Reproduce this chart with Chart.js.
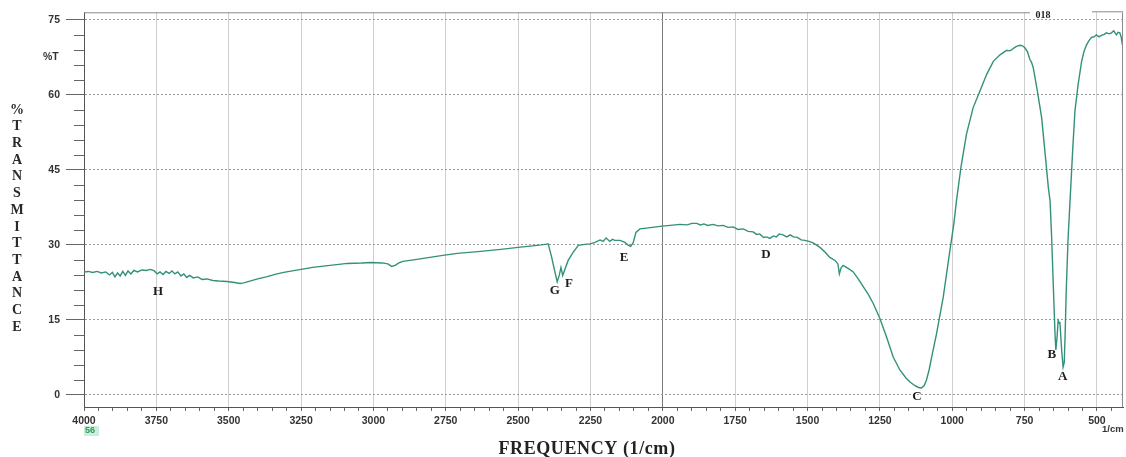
<!DOCTYPE html>
<html>
<head>
<meta charset="utf-8">
<title>FTIR spectrum</title>
<script src="https://cdn.jsdelivr.net/npm/chart.js@4.4.1/dist/chart.umd.min.js"></script>
<style>
  html, body { margin: 0; padding: 0; background: #ffffff; }
  canvas { display: block; }
</style>
</head>
<body>
<canvas id="ir" width="1126" height="457"></canvas>
<script>
// Wavenumber (1/cm) and %T of the recorded IR spectrum, high to low wavenumber.
const wavenumbers = [
  4000, 3985, 3970, 3955, 3940, 3925, 3912, 3902, 3893, 3884, 3875, 3866, 3857, 3848, 3838, 3828,
  3815, 3800, 3785, 3770, 3757, 3747, 3737, 3727, 3717, 3706, 3696, 3686, 3676, 3665, 3655, 3645,
  3635, 3622, 3608, 3592, 3575, 3555, 3535, 3506, 3480, 3460, 3448, 3430, 3400, 3370, 3340, 3310,
  3260, 3210, 3150, 3090, 3040, 3010, 2970, 2950, 2937, 2925, 2912, 2898, 2850, 2805, 2760, 2710,
  2670, 2630, 2560, 2500, 2450, 2420, 2396, 2384, 2373, 2365, 2358, 2352, 2346, 2338, 2327, 2310,
  2292, 2270, 2252, 2234, 2217, 2206, 2196, 2183, 2174, 2166, 2148, 2131, 2119, 2111, 2102, 2093,
  2079, 2050, 2010, 1975, 1941, 1915, 1900, 1883, 1870, 1858, 1845, 1826, 1810, 1791, 1775, 1757,
  1740, 1722, 1705, 1688, 1676, 1665, 1652, 1641, 1630, 1618, 1608, 1598, 1585, 1572, 1560, 1549,
  1535, 1522, 1509, 1495, 1481, 1470, 1457, 1440, 1423, 1405, 1395, 1390, 1384, 1377, 1360, 1342,
  1325, 1307, 1290, 1273, 1250, 1227, 1204, 1181, 1160, 1146, 1130, 1117, 1106, 1097, 1089, 1080,
  1071, 1054, 1031, 1008, 995, 985, 970, 951, 928, 904, 881, 858, 835, 820, 812, 803,
  795, 786, 778, 766, 757, 749, 740, 732, 726, 720, 706, 691, 680, 668, 662, 657,
  651, 645, 642, 638, 634, 630, 628, 622, 617, 613, 610, 606, 600, 593, 584, 576,
  565, 553, 545, 536, 528, 519, 510, 502, 493, 485, 475, 467, 458, 450, 442, 433,
  427, 421, 416, 412
];
const transmittance = [
  24.6, 24.7, 24.5, 24.7, 24.4, 24.6, 24.0, 24.5, 23.6, 24.4, 23.8, 24.7, 23.9, 24.8, 24.2, 24.9,
  24.6, 25.0, 24.9, 25.1, 24.8, 24.2, 24.6, 24.1, 24.7, 24.3, 24.8, 24.2, 24.6, 23.8, 24.2, 23.5,
  23.9, 23.4, 23.6, 23.1, 23.2, 22.9, 22.8, 22.7, 22.5, 22.3, 22.4, 22.7, 23.2, 23.6, 24.1, 24.5,
  25.0, 25.5, 25.9, 26.3, 26.4, 26.5, 26.4, 26.2, 25.7, 25.9, 26.4, 26.7, 27.1, 27.5, 27.9, 28.3,
  28.5, 28.7, 29.1, 29.5, 29.8, 30.0, 30.2, 27.5, 24.6, 22.6, 23.9, 25.5, 23.9, 25.2, 26.9, 28.5,
  29.9, 30.1, 30.2, 30.5, 31.0, 30.7, 31.4, 30.7, 31.1, 30.9, 30.9, 30.5, 29.9, 29.7, 30.5, 32.5,
  33.2, 33.4, 33.7, 33.9, 34.1, 34.0, 34.3, 34.3, 34.0, 34.2, 33.9, 34.1, 33.8, 33.9, 33.5, 33.6,
  33.1, 33.2, 32.7, 32.6, 32.1, 32.2, 31.5, 31.6, 31.3, 31.8, 31.6, 32.2, 32.0, 31.6, 32.0, 31.6,
  31.5, 31.0, 30.9, 30.7, 30.4, 30.0, 29.5, 28.6, 27.5, 26.9, 26.2, 24.2, 25.4, 25.9, 25.3, 24.6,
  23.2, 21.6, 20.1, 18.3, 15.3, 11.6, 7.6, 5.0, 3.4, 2.6, 1.9, 1.5, 1.4, 1.9, 3.0, 5.0,
  7.6, 12.3, 19.6, 28.9, 34.0, 39.0, 45.5, 52.1, 57.4, 60.8, 64.1, 66.7, 68.0, 68.6, 68.9, 68.8,
  69.0, 69.4, 69.7, 69.9, 69.8, 69.4, 68.6, 67.1, 66.5, 65.4, 60.8, 55.4, 48.8, 41.5, 38.8, 32.2,
  22.2, 12.3, 9.0, 11.5, 14.9, 14.4, 14.6, 9.0, 5.6, 6.5, 12.0, 21.0, 31.0, 38.8, 48.8, 56.8,
  62.1, 66.7, 68.6, 70.0, 70.8, 71.5, 71.6, 72.0, 71.6, 71.9, 72.1, 72.4, 72.2, 72.4, 72.8, 72.0,
  72.5, 72.4, 71.5, 70.0
];

// Labelled bands: letter and where it is written (wavenumber, %T).
const bandLetters = ['H', 'G', 'F', 'E', 'D', 'C', 'B', 'A'];
const bandLetterWavenumbers = [3744, 2373, 2324, 2134, 1644, 1122, 656, 618];
const bandLetterTransmittance = [20.7, 20.9, 22.3, 27.5, 28.1, -0.4, 8.0, 3.6];

// Axis ticks.
const xTickLabels = [4000, 3750, 3500, 3250, 3000, 2750, 2500, 2250, 2000, 1750, 1500, 1250, 1000, 750, 500];
const yTickLabels = [0, 15, 30, 45, 60, 75];
const xMinorStep = 50;
const yMinorStep = 3;

const X_MIN = 410, X_MAX = 4000;
const Y_MIN = -2.4, Y_MAX = 76.5;

const tickFont = { family: "'Liberation Sans', Arial, sans-serif", size: 10.5, weight: 'bold' };
const serifBold = "'Liberation Serif', 'Times New Roman', serif";

const xTickValues = [];
for (let v = X_MAX; v >= 450; v -= xMinorStep) xTickValues.push(v);

const points = wavenumbers.map((w, i) => ({ x: w, y: transmittance[i] }));

// Frame pieces, minor y ticks and the text drawn around the plot.
const decorations = {
  id: 'decorations',
  afterDraw(chart) {
    const { ctx, chartArea: a, scales: { x, y } } = chart;
    ctx.save();

    // top and right frame
    ctx.strokeStyle = '#8a8a8a';
    ctx.lineWidth = 1;
    ctx.beginPath();
    ctx.moveTo(a.left, a.top + 0.5); ctx.lineTo(1030, a.top + 0.5);
    ctx.moveTo(1092, a.top - 0.5); ctx.lineTo(a.right, a.top - 0.5);
    ctx.moveTo(a.right - 0.5, a.top); ctx.lineTo(a.right - 0.5, a.bottom);
    ctx.stroke();

    // minor ticks on the %T axis
    ctx.strokeStyle = '#666';
    ctx.beginPath();
    for (let v = yMinorStep; v < 75; v += yMinorStep) {
      if (v % 15 === 0) continue;
      const py = Math.round(y.getPixelForValue(v)) + 0.5;
      ctx.moveTo(a.left - 10, py); ctx.lineTo(a.left, py);
    }
    ctx.stroke();

    // vertical axis title, one letter per line
    ctx.fillStyle = '#2a2a2a';
    ctx.font = `bold 14px ${serifBold}`;
    ctx.textAlign = 'center';
    ctx.textBaseline = 'middle';
    const letters = '%TRANSMITTANCE'.split('');
    letters.forEach((ch, i) => ctx.fillText(ch, 17, 110 + i * 16.7));

    // horizontal axis title
    ctx.font = `bold 18px ${serifBold}`;
    ctx.fillStyle = '#222';
    ctx.letterSpacing = '0.6px';
    ctx.fillText('FREQUENCY (1/cm)', 587, 449);
    ctx.letterSpacing = '0px';

    // unit marks
    ctx.font = "bold 10.5px 'Liberation Sans', Arial, sans-serif";
    ctx.fillStyle = '#333';
    ctx.textAlign = 'left';
    ctx.fillText('%T', 43, 57);
    ctx.font = "bold 9.5px 'Liberation Sans', Arial, sans-serif";
    ctx.fillText('1/cm', 1102, 429);

    // sample number under the first tick
    ctx.fillStyle = 'rgba(140, 215, 170, 0.45)';
    ctx.fillRect(84, 426, 15, 10);
    ctx.fillStyle = '#2f9a62';
    ctx.font = "bold 9px 'Liberation Sans', Arial, sans-serif";
    ctx.fillText('56', 85, 431);

    // spectrum id on the top edge
    ctx.fillStyle = '#222';
    ctx.font = `bold 10px ${serifBold}`;
    ctx.textAlign = 'center';
    ctx.fillText('018', 1043, 15);

    // band letters
    ctx.font = `bold 13px ${serifBold}`;
    ctx.fillStyle = '#1e1e1e';
    bandLetters.forEach((ch, i) => {
      ctx.fillText(ch, x.getPixelForValue(bandLetterWavenumbers[i]), y.getPixelForValue(bandLetterTransmittance[i]));
    });

    ctx.restore();
  }
};

new Chart(document.getElementById('ir'), {
  type: 'line',
  data: {
    datasets: [{
      data: points,
      borderColor: '#33907a',
      borderWidth: 1.4,
      pointRadius: 0,
      tension: 0,
      fill: false
    }]
  },
  options: {
    responsive: false,
    animation: false,
    events: [],
    parsing: false,
    layout: { padding: { top: 11, right: 3, left: 0, bottom: 0 } },
    plugins: { legend: { display: false }, tooltip: { enabled: false } },
    scales: {
      x: {
        type: 'linear',
        reverse: true,
        min: X_MIN,
        max: X_MAX,
        afterBuildTicks: (s) => { s.ticks = xTickValues.map(v => ({ value: v })); },
        afterFit: (s) => { s.height = 50; },
        ticks: {
          autoSkip: false,
          maxRotation: 0,
          minRotation: 0,
          padding: 4,
          color: '#333',
          font: tickFont,
          callback: (v) => (xTickLabels.includes(v) ? String(v) : '')
        },
        grid: {
          color: (c) => {
            const v = c.tick ? c.tick.value : null;
            if (v === 2000) return '#7a7a7a';
            return xTickLabels.includes(v) ? '#cfcfcf' : 'rgba(0,0,0,0)';
          },
          lineWidth: 1,
          drawTicks: true,
          tickLength: 4,
          tickColor: '#666'
        },
        border: { display: true, color: '#555', width: 1 },
        title: { display: false }
      },
      y: {
        type: 'linear',
        min: Y_MIN,
        max: Y_MAX,
        afterBuildTicks: (s) => { s.ticks = yTickLabels.map(v => ({ value: v })); },
        afterFit: (s) => { s.width = 84; },
        ticks: {
          padding: 6,
          color: '#333',
          font: tickFont,
          callback: (v) => String(v)
        },
        grid: {
          color: '#9a9a9a',
          lineWidth: 1,
          drawTicks: true,
          tickLength: 18,
          tickColor: '#666'
        },
        border: { display: true, color: '#555', width: 1, dash: [2, 2] }
      }
    }
  },
  plugins: [decorations]
});
</script>
</body>
</html>
